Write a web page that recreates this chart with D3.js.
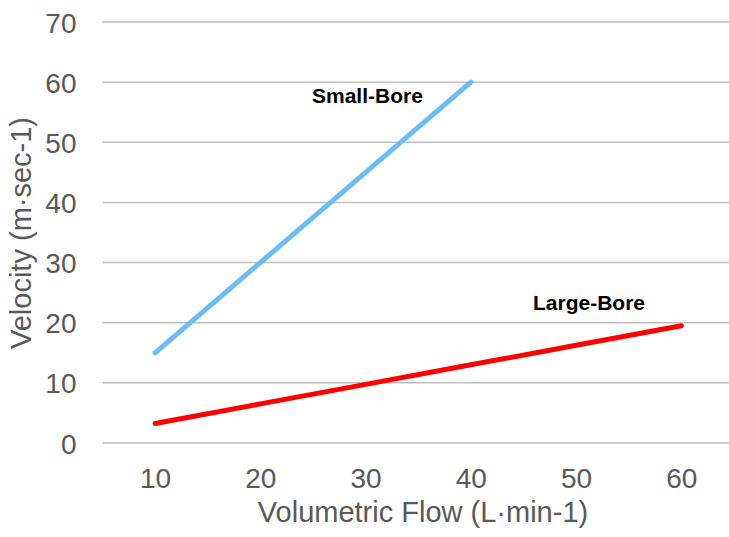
<!DOCTYPE html>
<html lang="en">
<meta charset="UTF-8">
<title>Velocity vs Volumetric Flow</title>
<script src="https://d3js.org/d3.v7.min.js"></script>
<style>
  body { margin: 0; background: #fff; }
  svg { display: block; font-family: "Liberation Sans", Arial, sans-serif; }
  .grid line { stroke: #bfbfbf; stroke-width: 1.5; }
  .tick text { fill: #595959; font-size: 28px; }
  .title { fill: #595959; font-size: 29px; }
  .lbl { fill: #000; font-size: 21px; font-weight: bold; }
</style>
<body>
<svg id="chart" width="729" height="537"></svg>
<script>
  // data
  var flows = [10, 20, 30, 40, 50, 60];
  var smallBore = [15, 30, 45, 60];          // only up to 40 L/min
  var largeBore = [3.25, 6.5, 9.75, 13, 16.25, 19.5];
  var yTicks = [0, 10, 20, 30, 40, 50, 60, 70];

  var svg = d3.select("#chart");

  var x = d3.scalePoint()
    .domain(flows)
    .range([102.5, 734])
    .padding(0.5);

  var y = d3.scaleLinear()
    .domain([0, 70])
    .range([443, 22]);

  // horizontal gridlines
  svg.append("g")
    .attr("class", "grid")
    .selectAll("line")
    .data(yTicks)
    .enter()
    .append("line")
    .attr("x1", 102.5)
    .attr("x2", 734)
    .attr("y1", function(d) { return y(d); })
    .attr("y2", function(d) { return y(d); });

  // y axis labels
  var yAxis = svg.append("g")
    .attr("transform", "translate(102.5,0)")
    .call(d3.axisLeft(y).tickValues(yTicks).tickSize(0).tickPadding(26));
  yAxis.select(".domain").remove();
  yAxis.selectAll("text").attr("dy", "0.36em");

  // x axis labels
  var xAxis = svg.append("g")
    .attr("transform", "translate(0,443)")
    .call(d3.axisBottom(x).tickSize(0).tickPadding(25));
  xAxis.select(".domain").remove();

  var line = d3.line()
    .x(function(d, i) { return x(flows[i]); })
    .y(function(d) { return y(d); });

  svg.append("path")
    .datum(smallBore)
    .attr("d", line)
    .attr("fill", "none")
    .attr("stroke", "#6cbdf7")
    .attr("stroke-width", 5)
    .attr("stroke-linecap", "round");

  svg.append("path")
    .datum(largeBore)
    .attr("d", line)
    .attr("fill", "none")
    .attr("stroke", "#ff0000")
    .attr("stroke-width", 5)
    .attr("stroke-linecap", "round");

  // series labels
  svg.append("text").attr("class", "lbl")
    .attr("x", 312).attr("y", 103)
    .text("Small-Bore");
  svg.append("text").attr("class", "lbl")
    .attr("x", 533).attr("y", 310)
    .text("Large-Bore");

  // axis titles
  svg.append("text").attr("class", "title")
    .attr("x", 423).attr("y", 522)
    .attr("text-anchor", "middle")
    .text("Volumetric Flow (L·min-1)");

  svg.append("text").attr("class", "title")
    .attr("transform", "translate(31,233) rotate(-90)")
    .attr("text-anchor", "middle")
    .text("Velocity (m·sec-1)");
</script>
</body>
</html>
